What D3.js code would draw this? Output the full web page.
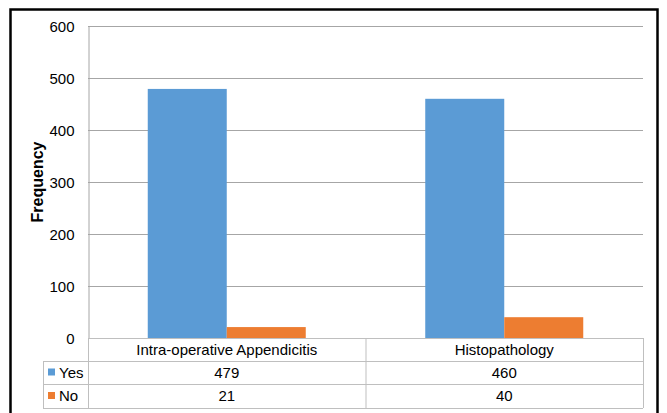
<!DOCTYPE html>
<html>
<head>
<meta charset="utf-8">
<script src="https://cdn.jsdelivr.net/npm/d3@7"></script>
<style>
  html, body { margin: 0; padding: 0; background: #fff; }
  svg { display: block; font-family: "Liberation Sans", Arial, sans-serif; }
</style>
</head>
<body>
<svg id="chart" width="667" height="413"></svg>
<script>
// Appendicitis outcomes by assessment method
const categories = ["Intra-operative Appendicitis", "Histopathology"];
const seriesNames = ["Yes", "No"];
const yesValues = [479, 460];
const noValues = [21, 40];
const yTicks = [0, 100, 200, 300, 400, 500, 600];
const colors = ["#5B9BD5", "#ED7D31"];

const series = [
  { name: seriesNames[0], values: yesValues, color: colors[0] },
  { name: seriesNames[1], values: noValues, color: colors[1] }
];

const svg = d3.select("#chart");
const FS = 15;

// outer frame
svg.append("rect")
  .attr("x", 10.5).attr("y", 9.5)
  .attr("width", 647).attr("height", 420)
  .attr("fill", "#fff")
  .attr("stroke", "#000").attr("stroke-width", 2.5);

const plot = { left: 88, right: 643, top: 26, bottom: 338 };

const x = d3.scaleBand()
  .domain(categories)
  .range([plot.left, plot.right]);

const y = d3.scaleLinear()
  .domain([0, 600])
  .range([plot.bottom, plot.top]);

// gridlines
svg.append("g")
  .selectAll("line")
  .data(yTicks)
  .join("line")
  .attr("x1", plot.left).attr("x2", plot.right)
  .attr("y1", d => y(d) + 0.5).attr("y2", d => y(d) + 0.5)
  .attr("stroke", "#a6a6a6").attr("stroke-width", 1);

// y axis
const yAxis = svg.append("g")
  .attr("transform", `translate(${plot.left + 0.5},0.5)`)
  .call(d3.axisLeft(y).tickValues(yTicks).tickSize(0).tickPadding(14));
yAxis.select(".domain").attr("stroke", "#a6a6a6");
yAxis.selectAll("text")
  .attr("font-size", FS)
  .attr("fill", "#000")
  .style("font-family", "'Liberation Sans', Arial, sans-serif");

// y axis title
svg.append("text")
  .attr("transform", `translate(43,182) rotate(-90)`)
  .attr("text-anchor", "middle")
  .attr("font-size", 16)
  .attr("font-weight", "bold")
  .attr("fill", "#000")
  .text("Frequency");

// bars
const barW = 79;
const inner = d3.scaleBand()
  .domain(seriesNames)
  .range([0, barW * 2]);

series.forEach(s => {
  svg.append("g")
    .selectAll("rect")
    .data(categories.map((c, i) => ({ c, v: s.values[i] })))
    .join("rect")
    .attr("x", d => x(d.c) + x.bandwidth() / 2 - barW + inner(s.name))
    .attr("width", inner.bandwidth())
    .attr("y", d => y(d.v))
    .attr("height", d => y(0) - y(d.v))
    .attr("fill", s.color);
});

// data table
const rowH = [338, 361, 384, 408];
const tableLeft = 43;
const tbl = svg.append("g").attr("stroke", "#bfbfbf").attr("stroke-width", 1).attr("fill", "none");

// horizontal rules
tbl.append("line").attr("x1", plot.left).attr("x2", plot.right).attr("y1", rowH[0] + 0.5).attr("y2", rowH[0] + 0.5);
[1, 2, 3].forEach(i => {
  tbl.append("line").attr("x1", tableLeft).attr("x2", plot.right)
    .attr("y1", rowH[i] + 0.5).attr("y2", rowH[i] + 0.5);
});
// vertical rules
tbl.append("line").attr("x1", tableLeft + 0.5).attr("x2", tableLeft + 0.5).attr("y1", rowH[1]).attr("y2", rowH[3]);
const vx = [plot.left, x(categories[1]), plot.right];
vx.forEach(v => {
  tbl.append("line").attr("x1", v + 0.5).attr("x2", v + 0.5).attr("y1", rowH[0]).attr("y2", rowH[3]);
});

// category header
svg.append("g").selectAll("text")
  .data(categories)
  .join("text")
  .attr("x", d => x(d) + x.bandwidth() / 2)
  .attr("y", (rowH[0] + rowH[1]) / 2 + 5)
  .attr("text-anchor", "middle")
  .attr("font-size", FS)
  .attr("fill", "#000")
  .text(d => d);

// series rows
series.forEach((s, si) => {
  const top = rowH[si + 1], bot = rowH[si + 2];
  const mid = (top + bot) / 2;
  svg.append("rect")
    .attr("x", 48).attr("y", mid - 4)
    .attr("width", 7).attr("height", 7)
    .attr("fill", s.color);
  svg.append("text")
    .attr("x", 59).attr("y", mid + 5)
    .attr("font-size", FS)
    .attr("fill", "#000")
    .text(s.name);
  svg.append("g").selectAll("text")
    .data(categories.map((c, i) => ({ c, v: s.values[i] })))
    .join("text")
    .attr("x", d => x(d.c) + x.bandwidth() / 2)
    .attr("y", mid + 5)
    .attr("text-anchor", "middle")
    .attr("font-size", FS)
    .attr("fill", "#000")
    .text(d => d.v);
});
</script>
</body>
</html>
